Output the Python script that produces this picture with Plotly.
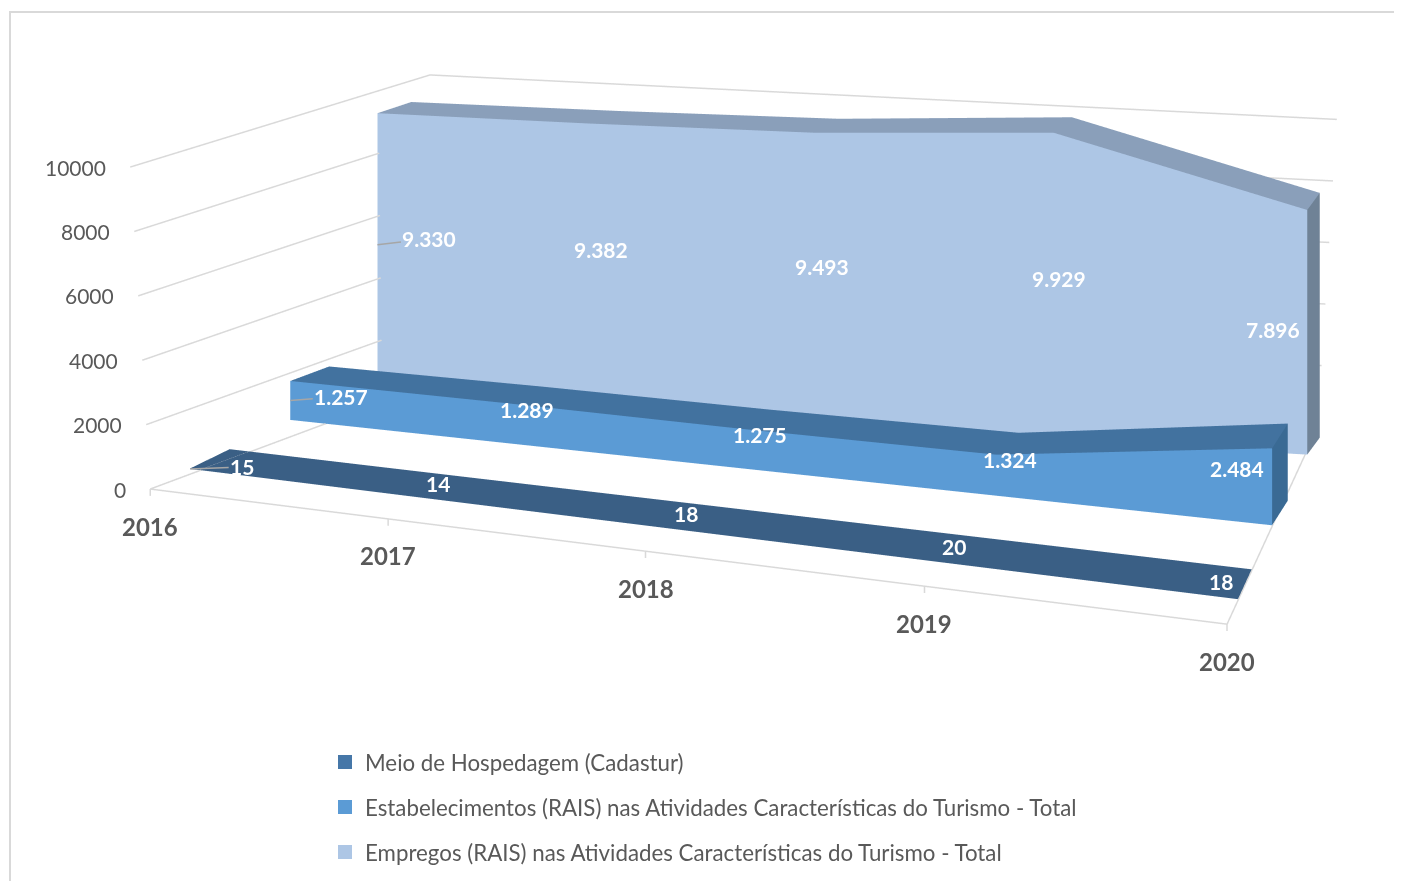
import math
import numpy as np
import plotly.graph_objects as go

years = ["2016", "2017", "2018", "2019", "2020"]
meio = [15, 14, 18, 20, 18]
estab = [1257, 1289, 1275, 1324, 2484]
empregos = [9330, 9382, 9493, 9929, 7896]
labels_meio = ["15", "14", "18", "20", "18"]
labels_estab = ["1.257", "1.289", "1.275", "1.324", "2.484"]
labels_empregos = ["9.330", "9.382", "9.493", "9.929", "7.896"]
z_ticks = [0, 2000, 4000, 6000, 8000, 10000]
names = ["Meio de Hospedagem (Cadastur)",
         "Estabelecimentos (RAIS) nas Atividades Características do Turismo - Total",
         "Empregos (RAIS) nas Atividades Características do Turismo - Total"]

# where each category falls along the x axis (the reference is seen in perspective)
cat_pos = [0, 0.221, 0.46, 0.719, 1]

GRID = "#D9D9D9"
TXT = "#595959"
FONT = "Lato, Carlito, 'Open Sans', sans-serif"
LEAD = "#A6A6A6"
Z_MIN = -1000
Z_MAX = 10500
FRONT_Y = -0.04
WALL_Y = 0.90
FRONT_Z = 1.032
n = len(years)

# The scene is orthographic; these tables give far rows the narrower span and flatter
# run of the reference's perspective view.
ROW_Y = [-0.04, 0.10, 0.48, 0.62, 0.76, 0.90]
ROW_LEFT = [-0.0374, -0.024, 0.004, 0.021, 0.038, 0.064]
ROW_RIGHT = [1.0396, 1.024, 0.986, 0.977, 0.968, 0.961]
ROW_RUN = [0.124, 0.123, 0.108, 0.100, 0.063, 0.056]
ROW_BEND = [0, 0, 0, 0, 0.01, 0.01]


def place(f, y):
    """Category fraction and row depth to scene x and y."""
    left = np.interp(y, ROW_Y, ROW_LEFT)
    right = np.interp(y, ROW_Y, ROW_RIGHT)
    f2 = f + 4 * f * (1 - f) * np.interp(y, ROW_Y, ROW_BEND)
    x = left + (right - left) * f2
    d = -(np.interp(y, ROW_Y, ROW_RUN) - 0.112) * 6.25 * (x - 0.5)
    return float(x - 0.19 * d), float(y + d)


def ribbon(values, y0, y1, front, top, side):
    xs, ys, zs = [], [], []
    for f, v in zip(cat_pos, values):
        p0, p1 = place(f, y0), place(f, y1)
        xs += [p0[0], p1[0], p0[0], p1[0]]
        ys += [p0[1], p1[1], p0[1], p1[1]]
        zs += [0, 0, v, v]
    I, J, K, C = [], [], [], []
    for i in range(n - 1):
        a = 4 * i
        b = a + 4
        I += [a, a]; J += [b, b + 2]; K += [b + 2, a + 2]; C += [front, front]
        I += [a + 2, a + 2]; J += [b + 2, b + 3]; K += [b + 3, a + 3]; C += [top, top]
    e = 4 * (n - 1)
    I += [e, e]; J += [e + 1, e + 3]; K += [e + 3, e + 2]; C += [side, side]
    return go.Mesh3d(x=xs, y=ys, z=zs, i=I, j=J, k=K, facecolor=C, flatshading=True,
                     lighting=dict(ambient=1, diffuse=0, specular=0, roughness=1, fresnel=0),
                     hoverinfo="skip", showscale=False)


def grid_line(xs, ys, zs, width=3):
    return go.Scatter3d(x=xs, y=ys, z=zs, mode="lines", line=dict(color=GRID, width=width),
                        hoverinfo="skip", showlegend=False)


fig = go.Figure()

# walls and floor
FL = place(0, FRONT_Y)
FR = place(1, FRONT_Y)
BL = place(0, WALL_Y)
BR = place(1, WALL_Y)
for t in z_ticks:
    fig.add_trace(grid_line([FL[0] - t * 2e-6, BL[0], BR[0] - 0.009 + t * 1.9e-6],
                            [FL[1], BL[1], BR[1]], [t * FRONT_Z, t, t]))
fig.add_trace(grid_line([FL[0], FR[0], BR[0] - 0.009], [FL[1], FR[1], BR[1]], [0, 0, 0]))
for f in cat_pos:
    px, py = place(f, FRONT_Y)
    fig.add_trace(grid_line([px, px], [py, py], [0, -220]))

ROWS = [(meio, 0.10, 0.25, ("#3A5F85", "#3A5F85", "#3A5F85")),
        (estab, 0.48, 0.605, ("#5B9BD5", "#42729F", "#3A6A94")),
        (empregos, 0.76, 0.85, ("#ADC6E5", "#8A9FBA", "#6F8296"))]
for vals, y0, y1, cols in reversed(ROWS):
    fig.add_trace(ribbon(vals, y0, y1, *cols))

# legend
for name, col in zip(names, ["#4677A8", "#5B9BD5", "#ADC6E5"]):
    fig.add_trace(go.Scatter3d(x=[None], y=[None], z=[None], mode="markers", name=name,
                               marker=dict(symbol="square", size=14, color=col), legendgroup=name))

ann = []
for t in z_ticks:
    ann.append(dict(x=FL[0] - t * 2e-6, y=FL[1], z=t * FRONT_Z, text=str(t), showarrow=False, xanchor="right",
                    xshift=-22, font=dict(family=FONT, size=21, color=TXT)))
for f, yr in zip(cat_pos, years):
    px, py = place(f, FRONT_Y)
    ann.append(dict(x=px, y=py, z=0, text="<b>%s</b>" % yr, showarrow=False, yshift=-37,
                    font=dict(family=FONT, size=24, color=TXT)))

lab_font = dict(family=FONT, size=21, color="white")
# label offsets (px) from the point on each ribbon; the first label of a row has a leader line
LAB = [
    (meio, labels_meio, 0.175, 0.0, [-1, 0, 0, -24], [3, 3, 3, 3], 0.10, 0.0, 52, -2),
    (estab, labels_estab, 0.48, 0.5, [20, 18, 14, -35], [14, 14, 16, 18], 0.48, 0.5, 51, -4),
    (empregos, labels_empregos, 0.76, 0.5, [12, 8, 6, -34], [19, 13, 8, 3], 0.76, 0.545, 52, -6),
]
for vals, labs, yy, zf, sx, sy, y_first, z_first, ax, ay in LAB:
    px, py = place(cat_pos[0], y_first)
    ann.append(dict(x=px, y=py, z=vals[0] * z_first, text="<b>%s</b>" % labs[0], font=lab_font,
                    showarrow=True, arrowhead=0, arrowcolor=LEAD, arrowwidth=1.5, ax=ax, ay=ay))
    for i in range(1, n):
        px, py = place(cat_pos[i], yy)
        ann.append(dict(x=px, y=py, z=vals[i] * zf, text="<b>%s</b>" % labs[i], font=lab_font,
                        showarrow=False, xshift=sx[i - 1], yshift=sy[i - 1]))

a = math.radians(20)
e = math.radians(17.9)
WIDTH, HEIGHT = 1394, 873
S0 = HEIGHT / 2  # px per scene unit in an orthographic scene
ZOOM = 532.0 / S0
DIST = 3.0
X_MIN, X_MAX = -0.07, 1.07
Y_MIN, Y_MAX = -0.1, 1.2
W = 2.0 * (X_MAX - X_MIN) * ZOOM
D = 1.043 * (Y_MAX - Y_MIN) * ZOOM
H = 0.612 * (Z_MAX - Z_MIN) / 10000 * ZOOM
dx, dy = -94.5 / S0, -129.75 / S0  # screen offset of the look-at point from the box centre
right = (math.cos(a), math.sin(a), 0)
up = (-math.sin(a) * math.sin(e), math.cos(a) * math.sin(e), math.cos(e))
cen = [dx * right[k] + dy * up[k] for k in range(3)]
look = (math.sin(a) * math.cos(e), -math.cos(a) * math.cos(e), math.sin(e))
eye = [cen[k] + DIST * look[k] for k in range(3)]

hidden = dict(visible=False, showgrid=False, zeroline=False, showticklabels=False, showspikes=False)
fig.update_layout(
    width=WIDTH, height=HEIGHT, margin=dict(l=0, r=0, t=0, b=0), paper_bgcolor="white",
    font=dict(family=FONT, color=TXT),
    showlegend=True,
    legend=dict(x=317 / WIDTH, y=1 - 733 / HEIGHT, xanchor="left", yanchor="top", tracegroupgap=13,
                font=dict(family=FONT, size=22.3, color=TXT), bgcolor="rgba(0,0,0,0)"),
    scene=dict(
        domain=dict(x=[0, 1], y=[0, 1]),
        xaxis=dict(range=[X_MIN, X_MAX], **hidden),
        yaxis=dict(range=[Y_MIN, Y_MAX], **hidden),
        zaxis=dict(range=[Z_MIN, Z_MAX], **hidden),
        aspectmode="manual", aspectratio=dict(x=W, y=D, z=H),
        camera=dict(projection=dict(type="orthographic"), up=dict(x=0, y=0, z=1),
                    center=dict(x=cen[0], y=cen[1], z=cen[2]),
                    eye=dict(x=eye[0], y=eye[1], z=eye[2])),
        annotations=ann,
    ),
    shapes=[dict(type="path", xref="paper", yref="paper",
                 path="M %.5f 0 L %.5f %.5f L 1 %.5f" % (2 / WIDTH, 2 / WIDTH, 1 - 4 / HEIGHT, 1 - 4 / HEIGHT),
                 line=dict(color=GRID, width=2))],
)
fig.write_html("out.html")
